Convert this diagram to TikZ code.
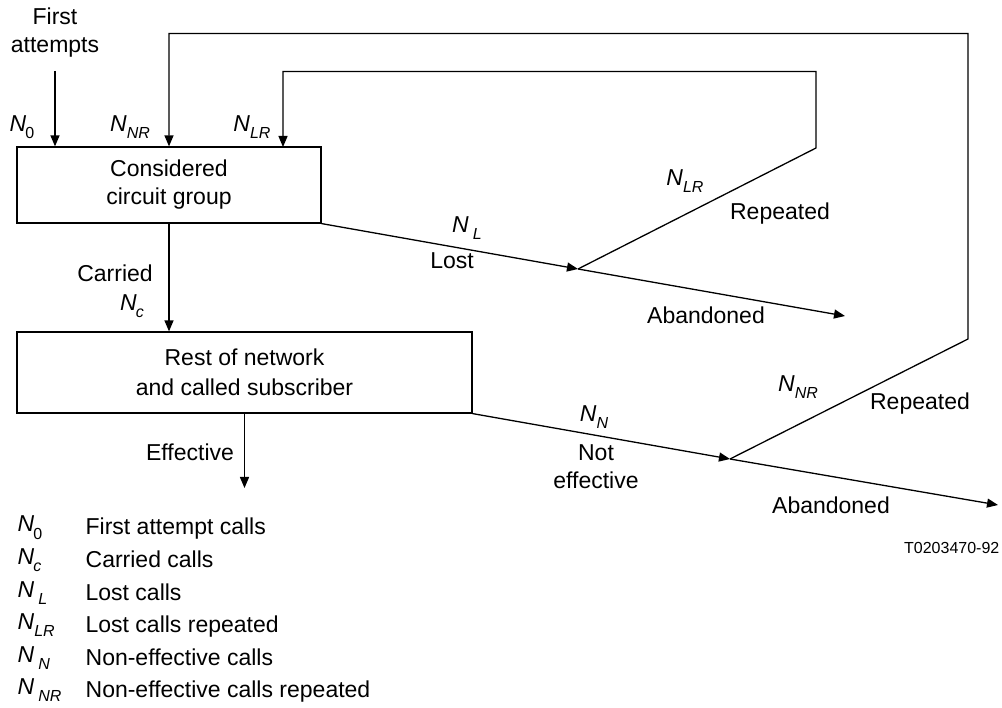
\documentclass[tikz,border=0pt]{standalone}
\usepackage{fontspec}
\setmainfont{Liberation Sans}
\usetikzlibrary{arrows.meta}
\newcommand\Nsb[2][0pt]{\textit{N}\kern#1\raisebox{-0.32em}{\fontsize{16}{16}\selectfont\itshape #2}}
\begin{document}
\begin{tikzpicture}[x=1pt,y=-1pt,line width=1.3pt,
  every node/.style={font=\fontsize{23}{28}\selectfont,inner sep=0pt},
  box/.style={draw,align=center,line width=1.2pt},
  arr/.style={-{Triangle[length=11pt,width=9pt]}},
  lbl/.style={align=center},
  leg/.style={anchor=base west}]
\useasboundingbox (0,0) rectangle (1002,708);

% boxes
\node[box,minimum width=304pt,minimum height=76pt] (b1) at (169,185) {Considered\\circuit group};
\node[box,minimum width=455pt,minimum height=81pt,font=\fontsize{23}{30}\selectfont] (b2) at (244.5,372.5) {Rest of network\\and called subscriber};

% coordinates
\coordinate (f0) at (55,71);
\coordinate (in3) at (283,147);
\coordinate (j1) at (578,269);
\coordinate (a1) at (845,316);
\coordinate (r1) at (816,148);
\coordinate (t1) at (816,71.5);
\coordinate (j2) at (730,459);
\coordinate (a2) at (998,505);
\coordinate (r2) at (968,339);
\coordinate (t2) at (968,33.5);
\coordinate (e1) at (244.5,488);

% connectors
\draw[arr] (f0) -- (f0 |- b1.north);
\draw[arr] (j2) -- (r2) -- (t2) -| (b1.north);
\draw[arr] (j1) -- (r1) -- (t1) -| (in3);
\draw[arr] (b1.south) -- (b1.south |- b2.north);
\draw[arr] (b1.south east) -- (j1);
\draw[arr] (j1) -- (a1);
\draw[arr] (b2.south east) -- (j2);
\draw[arr] (j2) -- (a2);
\draw[arr] (b2.south) -- (e1);

% labels
\node[lbl] (fa) at (55,33) {First\\attempts};
\node (ln0) at (22,127) {\Nsb[-1pt]{\upshape 0}};
\node (lnr) at (130,127) {\Nsb{NR}};
\node (llr) at (252,127) {\Nsb{LR}};
\node (car) at (115,273) {Carried};
\node (lnc) at (132,306) {\Nsb[-1pt]{c}};
\node (lnl) at (467,228) {\Nsb[4pt]{L}};
\node (lost) at (452,261) {Lost};
\node (llr2) at (685,181) {\Nsb{LR}};
\node (rep1) at (780,214) {Repeated};
\node (ab1) at (706,315) {Abandoned};
\node (eff) at (190,452) {Effective};
\node (lnn) at (594,417) {\Nsb{N}};
\node[lbl] (ne) at (596,467) {Not\\effective};
\node (lnr2) at (798,387) {\Nsb{NR}};
\node (rep2) at (920,404) {Repeated};
\node (ab2) at (831,505) {Abandoned};
\node[anchor=east,font=\fontsize{16}{18}\selectfont] (id) at (1000,548) {T0203470-92};

% legend
\node[leg] (k1) at (17,532) {\Nsb[-1pt]{\upshape 0}};
\node[leg] (k2) at (17,564) {\Nsb[-1pt]{c}};
\node[leg] (k3) at (17,597) {\Nsb[4pt]{L}};
\node[leg] (k4) at (17,629) {\Nsb{LR}};
\node[leg] (k5) at (17,662) {\Nsb[4pt]{N}};
\node[leg] (k6) at (17,694) {\Nsb[4pt]{NR}};
\node[leg] (d1) at (85,535) {First attempt calls};
\node[leg] (d2) at (85,567) {Carried calls};
\node[leg] (d3) at (85,600) {Lost calls};
\node[leg] (d4) at (85,632) {Lost calls repeated};
\node[leg] (d5) at (85,665) {Non-effective calls};
\node[leg] (d6) at (85,697) {Non-effective calls repeated};
\end{tikzpicture}
\end{document}
